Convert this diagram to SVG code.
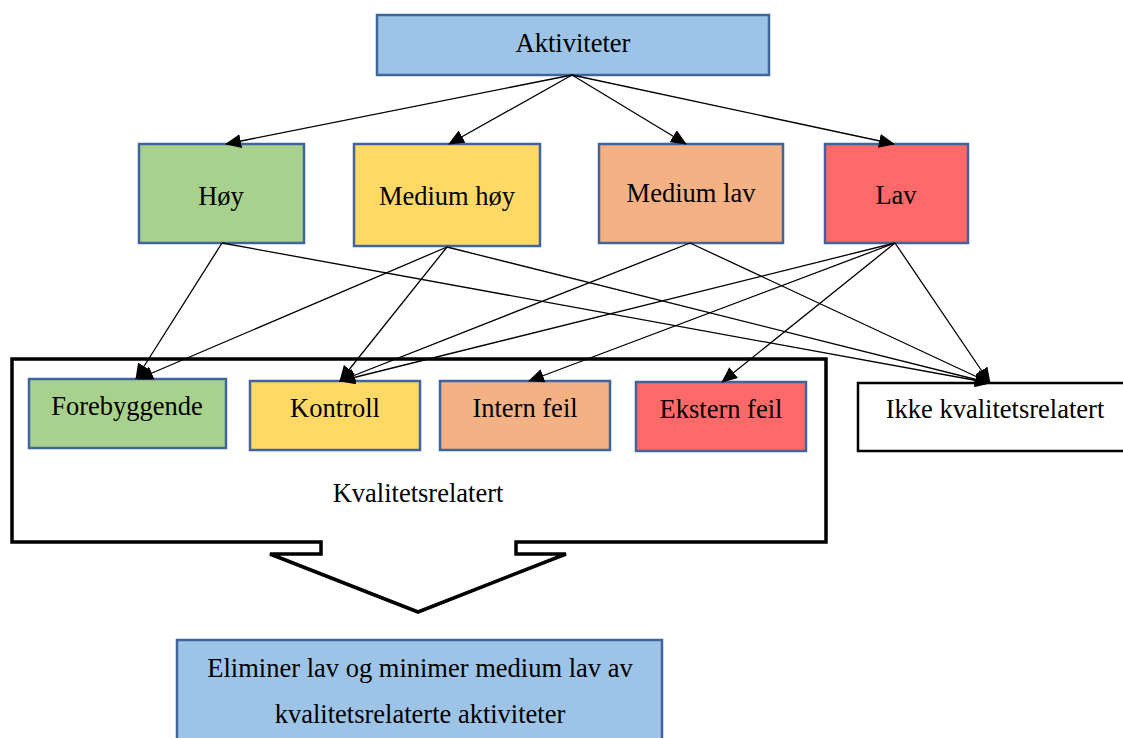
<svg xmlns="http://www.w3.org/2000/svg" width="1123" height="738" viewBox="0 0 1123 738">
<defs>
<marker id="ah" markerUnits="userSpaceOnUse" markerWidth="16" markerHeight="14" viewBox="0 0 16 14" refX="15" refY="7" orient="auto">
<path d="M0,0 L16,7 L0,14 Z" fill="#000"/>
</marker>
<style>
.box{stroke:#41649c;stroke-width:2.5}
.t{font-family:"Liberation Serif","Times New Roman",serif;font-size:26.5px;fill:#000;text-anchor:middle}
.c{stroke:#000;stroke-width:1.3;fill:none;marker-end:url(#ah)}
</style>
</defs>
<rect width="1123" height="738" fill="#fff"/>
<g id="kvalitetsrelatert">
<path d="M12,359 L826,359 L826,542 L516,542 L516,554 L566,554 L418,612 L270,554 L321,554 L321,542 L12,542 Z" fill="#fff" stroke="#000" stroke-width="3.5"/>
<text class="t" x="418" y="502">Kvalitetsrelatert</text>
</g>
<g id="aktiviteter"><rect class="box" x="377" y="15" width="392" height="60" fill="#9dc3e6"/><text class="t" x="573" y="52">Aktiviteter</text></g>
<g id="hoy"><rect class="box" x="139" y="144" width="165" height="99" fill="#a9d18e"/><text class="t" x="221" y="205">Høy</text></g>
<g id="medium-hoy"><rect class="box" x="354" y="144" width="186" height="102" fill="#ffd966"/><text class="t" x="447" y="205">Medium høy</text></g>
<g id="medium-lav"><rect class="box" x="599" y="144" width="184" height="99" fill="#f4b183"/><text class="t" x="691" y="202">Medium lav</text></g>
<g id="lav"><rect class="box" x="825" y="144" width="143" height="99" fill="#ff6969"/><text class="t" x="896" y="204">Lav</text></g>
<g id="forebyggende"><rect class="box" x="29" y="379" width="197" height="69" fill="#a9d18e"/><text class="t" x="127" y="415">Forebyggende</text></g>
<g id="kontroll"><rect class="box" x="250" y="381" width="170" height="69" fill="#ffd966"/><text class="t" x="335" y="417">Kontroll</text></g>
<g id="intern-feil"><rect class="box" x="440" y="381" width="170" height="69" fill="#f4b183"/><text class="t" x="525" y="417">Intern feil</text></g>
<g id="ekstern-feil"><rect class="box" x="636" y="382" width="170" height="69" fill="#ff6969"/><text class="t" x="721" y="418">Ekstern feil</text></g>
<g id="ikke-kvalitetsrelatert"><rect x="858" y="383" width="270" height="68" fill="#fff" stroke="#000" stroke-width="2.5"/><text class="t" x="995" y="418">Ikke kvalitetsrelatert</text></g>
<g id="eliminer"><rect class="box" x="177" y="640" width="485" height="104" fill="#9dc3e6"/><text class="t" x="420" y="677">Eliminer lav og minimer medium lav av</text><text class="t" x="420" y="723">kvalitetsrelaterte aktiviteter</text></g>
<g id="connectors">
<line class="c" x1="572" y1="75" x2="226" y2="144"/>
<line class="c" x1="572" y1="75" x2="449" y2="144"/>
<line class="c" x1="572" y1="75" x2="686" y2="144"/>
<line class="c" x1="572" y1="75" x2="894" y2="144"/>
<line class="c" x1="222" y1="243" x2="136" y2="379"/>
<line class="c" x1="222" y1="243" x2="990" y2="383"/>
<line class="c" x1="447" y1="247" x2="138" y2="379"/>
<line class="c" x1="447" y1="247" x2="340" y2="381"/>
<line class="c" x1="447" y1="247" x2="990" y2="383"/>
<line class="c" x1="690" y1="243" x2="340" y2="381"/>
<line class="c" x1="690" y1="243" x2="990" y2="383"/>
<line class="c" x1="895" y1="243" x2="340" y2="381"/>
<line class="c" x1="895" y1="243" x2="529" y2="381"/>
<line class="c" x1="895" y1="243" x2="722" y2="382"/>
<line class="c" x1="895" y1="243" x2="990" y2="383"/>
</g>
</svg>
